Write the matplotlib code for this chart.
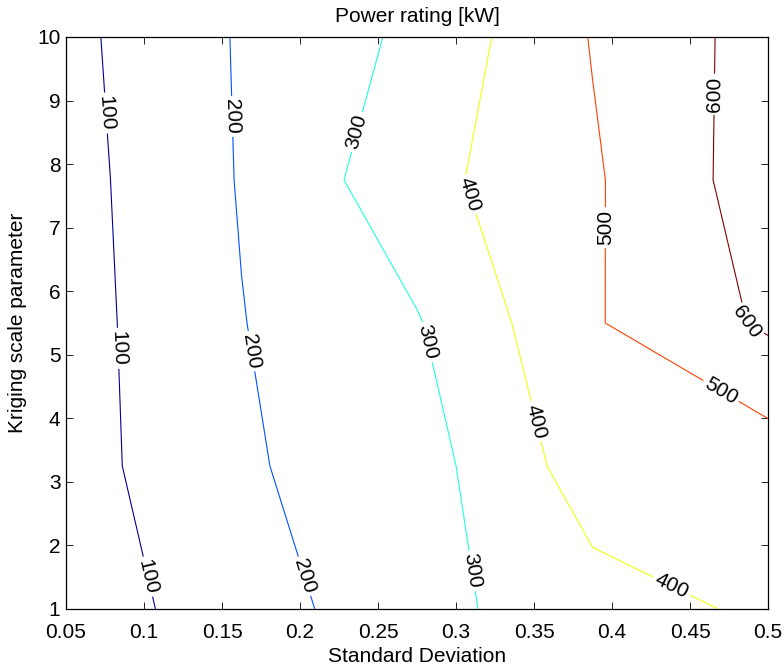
import numpy as np
import matplotlib
matplotlib.use('Agg')
import matplotlib.pyplot as plt

plt.rcParams['font.family'] = ['Liberation Sans', 'DejaVu Sans']

# grid of the kriging result
std_dev = [0.05, 0.1625, 0.275, 0.3875, 0.5]
scale_param = [1, 3.25, 5.5, 7.75, 10]
# power rating [kW], one row per scale parameter
power = [
    [46, 152, 267, 362, 415],
    [58, 189, 257, 450, 443],
    [60, 197, 293, 491, 615],
    [64, 206, 367, 488, 651],
    [73, 209, 322, 505, 641],
]
levels = [100, 200, 300, 400, 500, 600]

# matlab jet(64) entries used for the six levels
line_colors = [(0, 0, 0.5625), (0, 0.3125, 1), (0.125, 1, 0.875),
               (0.9375, 1, 0.0625), (1, 0.25, 0), (0.5, 0, 0)]

X, Y = np.meshgrid(std_dev, scale_param)
Z = np.array(power, dtype=float)

fig = plt.figure(figsize=(7.84, 6.67), dpi=100)
ax = fig.add_axes([0.0842, 0.087, 0.8954, 0.8576])

cs = ax.contour(X, Y, Z, levels=levels, colors=line_colors, linewidths=0.8)

# label spots, roughly where the original figure put them
label_spots = [
    (0.0735, 8.8), (0.0825, 5.1), (0.101, 1.5),
    (0.156, 8.75), (0.167, 5.05), (0.201, 1.5),
    (0.237, 8.5), (0.282, 5.2), (0.311, 1.6),
    (0.306, 7.5), (0.351, 3.95), (0.439, 1.4),
    (0.397, 7.0), (0.468, 4.35),
    (0.466, 9.1), (0.485, 5.5),
]
ax.clabel(cs, inline=True, fmt='%d', fontsize=15, colors='k',
          manual=label_spots, inline_spacing=3)

ax.set_xlim(0.05, 0.5)
ax.set_ylim(1, 10)
ax.set_xticks([0.05, 0.1, 0.15, 0.2, 0.25, 0.3, 0.35, 0.4, 0.45, 0.5])
ax.set_xticklabels(['0.05', '0.1', '0.15', '0.2', '0.25', '0.3', '0.35', '0.4', '0.45', '0.5'])
ax.set_yticks(range(1, 11))
ax.tick_params(direction='in', top=True, right=True, length=5, width=0.6,
               labelsize=15)
ax.tick_params(axis='x', pad=10)
ax.tick_params(axis='y', pad=4)
for sp in ax.spines.values():
    sp.set_linewidth(0.9)

ax.set_title('Power rating [kW]', fontsize=15, pad=11)
ax.set_xlabel('Standard Deviation', fontsize=15, labelpad=4)
ax.set_ylabel('Kriging scale parameter', fontsize=15, labelpad=7)

fig.savefig('out.png', dpi=100)
